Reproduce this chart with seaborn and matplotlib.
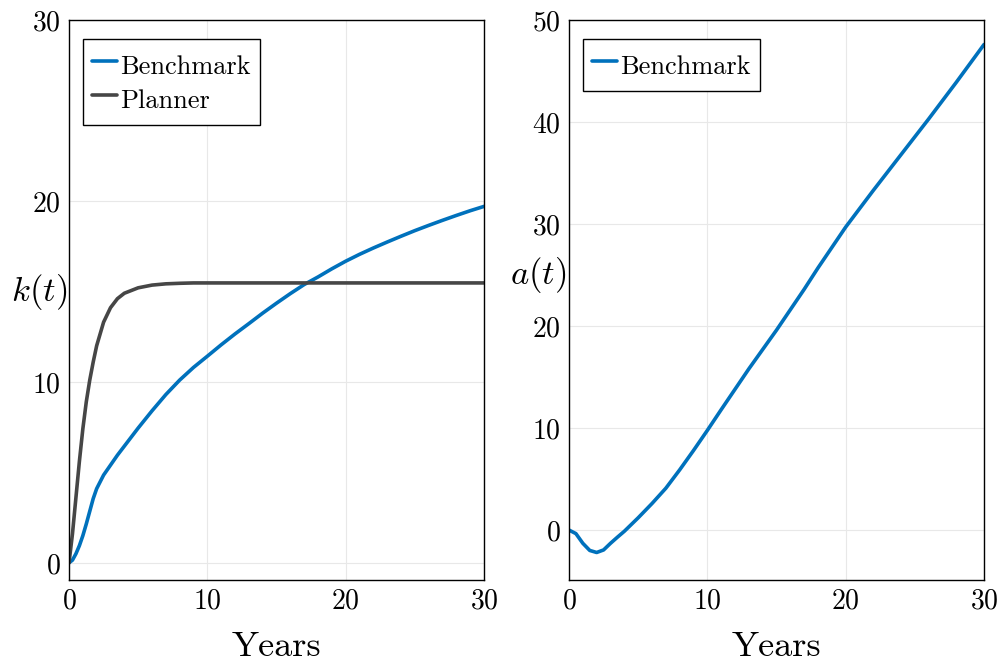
import matplotlib
matplotlib.use('Agg')
import matplotlib.pyplot as plt
import seaborn as sns

# capital path k(t), years
t_k = [0, 0.25, 0.5, 0.75, 1, 1.25, 1.5, 1.75, 2, 2.5, 3, 3.5, 4, 5, 6, 7, 8, 9, 10,
       11, 12, 13, 14, 15, 16, 17, 18, 19, 20, 21, 22, 23, 24, 25, 26, 27, 28, 29, 30]
k_benchmark = [0, 0.15, 0.5, 0.95, 1.5, 2.15, 2.85, 3.55, 4.1, 4.85, 5.4, 5.95, 6.45, 7.45,
               8.4, 9.3, 10.1, 10.8, 11.42, 12.05, 12.65, 13.22, 13.8, 14.35, 14.88, 15.38,
               15.8, 16.25, 16.67, 17.05, 17.4, 17.73, 18.05, 18.36, 18.65, 18.93, 19.2,
               19.46, 19.7]
k_planner = [0, 1.6, 3.6, 5.6, 7.4, 8.9, 10.1, 11.1, 12.0, 13.3, 14.1, 14.6, 14.9, 15.2,
             15.35, 15.42, 15.45, 15.47, 15.47, 15.47, 15.47, 15.47, 15.47, 15.47, 15.47,
             15.47, 15.47, 15.47, 15.47, 15.47, 15.47, 15.47, 15.47, 15.47, 15.47, 15.47,
             15.47, 15.47, 15.47]

# assets a(t)
t_a = [0, 0.5, 1, 1.5, 2, 2.5, 3, 3.5, 4, 5, 6, 7, 8, 9, 10, 11, 12, 13, 14, 15, 16, 17,
       18, 19, 20, 22, 24, 26, 28, 30]
a_benchmark = [0, -0.35, -1.3, -2.0, -2.2, -1.95, -1.3, -0.7, -0.12, 1.2, 2.6, 4.1, 5.9,
               7.8, 9.77, 11.8, 13.8, 15.8, 17.7, 19.6, 21.6, 23.6, 25.7, 27.7, 29.7, 33.3,
               36.8, 40.3, 43.9, 47.6]

blue = '#0071bc'
gray = '#464646'

sns.set_theme(style='white')
plt.rcParams['font.family'] = ['cmr10', 'DejaVu Serif']
plt.rcParams['mathtext.fontset'] = 'cm'
plt.rcParams['axes.formatter.use_mathtext'] = True

fig = plt.figure(figsize=(10, 6.61), dpi=100)
ax1 = fig.add_axes([0.069, 0.1225, 0.415, 0.8472])
ax2 = fig.add_axes([0.569, 0.1225, 0.415, 0.8472])

sns.lineplot(x=t_k, y=k_benchmark, ax=ax1, color=blue, linewidth=2.6, label='Benchmark')
sns.lineplot(x=t_k, y=k_planner, ax=ax1, color=gray, linewidth=2.6, label='Planner')
sns.lineplot(x=t_a, y=a_benchmark, ax=ax2, color=blue, linewidth=2.6, label='Benchmark')

ax1.set_xlim(0, 30)
ax1.set_ylim(-0.95, 30)
ax1.set_yticks([0, 10, 20, 30])
ax2.set_xlim(0, 30)
ax2.set_ylim(-4.9, 50)
ax2.set_yticks([0, 10, 20, 30, 40, 50])

for ax, lab, ly in [(ax1, r'$k(t)$', 0.514), (ax2, r'$a(t)$', 0.545)]:
    ax.set_xticks([0, 10, 20, 30])
    ax.grid(True, color='#e8e8e8', linewidth=0.8)
    ax.set_axisbelow(True)
    for s in ax.spines.values():
        s.set_color('black')
        s.set_linewidth(1.0)
    ax.tick_params(axis='both', direction='in', length=6, width=1, color='black',
                   labelsize=20, labelcolor='black', pad=6)
    ax.set_xlabel('Years', fontsize=26, labelpad=12, color='black')
    ax.set_ylabel(lab, fontsize=25, rotation=0, ha='right', va='center', color='black')
    ax.yaxis.set_label_coords(-0.005, ly)
    leg = ax.legend(loc='upper left', bbox_to_anchor=(0.034, 0.966), fontsize=19,
                    frameon=True, fancybox=False, framealpha=1, edgecolor='black',
                    handlelength=0.95, handleheight=1.6, handletextpad=0.1,
                    borderpad=0.35, labelspacing=0.0, borderaxespad=0,
                    labelcolor='black')
    leg.get_frame().set_linewidth(1.0)

fig.savefig('out.png', dpi=100)
